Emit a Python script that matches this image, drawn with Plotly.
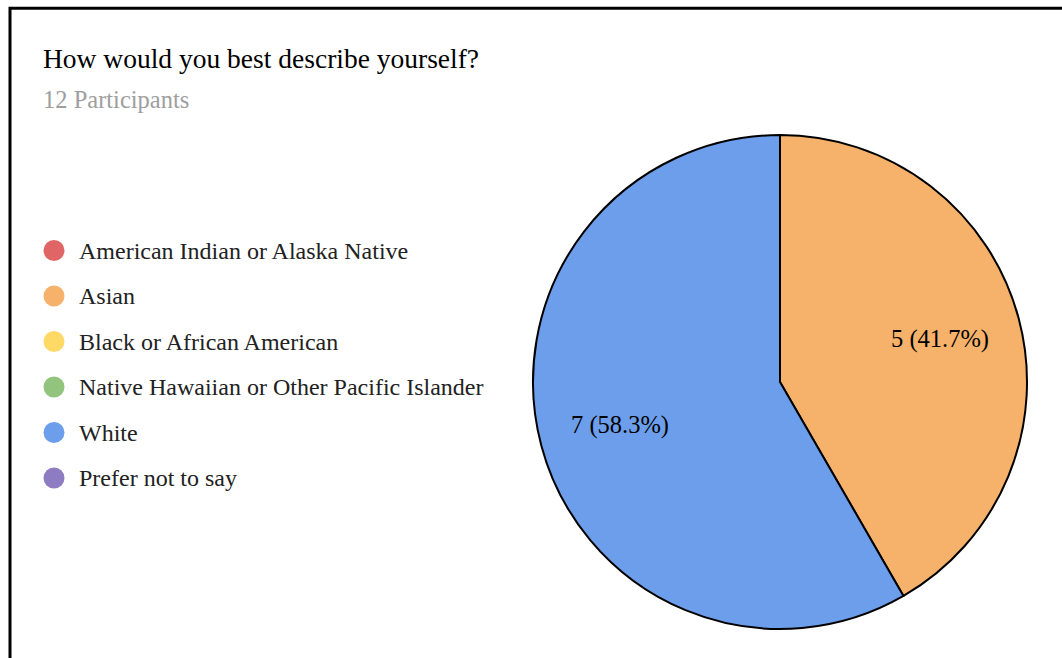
import math
import plotly.graph_objects as go

categories = ["American Indian or Alaska Native", "Asian", "Black or African American",
              "Native Hawaiian or Other Pacific Islander", "White", "Prefer not to say"]
counts = [0, 5, 0, 0, 7, 0]
colors = ["#e06666", "#f6b26b", "#ffd966", "#93c47d", "#6d9eeb", "#8e7cc3"]
title_text = "How would you best describe yourself?"
subtitle_text = "12 Participants"

W, H = 1062, 658
FONT = "Liberation Serif, Times New Roman, serif"

fig = go.Figure()

pie_labels = [c for c, v in zip(categories, counts) if v > 0]
pie_values = [v for v in counts if v > 0]
pie_colors = [col for col, v in zip(colors, counts) if v > 0]

cx, cy, r = 780, 382, 247
fig.add_trace(go.Pie(
    labels=pie_labels, values=pie_values,
    marker=dict(colors=pie_colors, line=dict(color="black", width=2)),
    sort=False, direction="clockwise", rotation=0,
    textinfo="none",
    domain=dict(x=[(cx - r) / W, (cx + r) / W], y=[1 - (cy + r) / H, 1 - (cy - r) / H]),
    showlegend=False, hoverinfo="label+value+percent",
))

# slice labels placed at each slice's mid-angle
total = sum(pie_values)
acc = 0
label_r = 0.67 * r
for v in pie_values:
    mid = (acc + v / 2) / total * 2 * math.pi
    acc += v
    lx = cx + label_r * math.sin(mid)
    ly = cy - label_r * math.cos(mid)
    fig.add_annotation(x=lx, y=ly, xref="x", yref="y",
                       text=f"{v} ({v / total * 100:.1f}%)", showarrow=False,
                       xanchor="center", yanchor="middle",
                       font=dict(family=FONT, size=24.5, color="black"))

# custom legend
leg_x = 54
leg_y0, leg_step = 250.5, 45.5
fig.add_trace(go.Scatter(
    x=[leg_x] * len(categories),
    y=[leg_y0 + i * leg_step for i in range(len(categories))],
    mode="markers", marker=dict(size=21, color=colors, line=dict(width=0)),
    showlegend=False, hoverinfo="skip", xaxis="x", yaxis="y",
))
for i, c in enumerate(categories):
    fig.add_annotation(x=77, y=leg_y0 + i * leg_step, xref="x", yref="y", text=c,
                       showarrow=False, xanchor="left", yanchor="middle",
                       font=dict(family=FONT, size=24, color="#222222"))

fig.add_annotation(x=41, y=58, xref="x", yref="y", text=title_text,
                   showarrow=False, xanchor="left", yanchor="middle",
                   font=dict(family=FONT, size=27.5, color="black"))
fig.add_annotation(x=41, y=99, xref="x", yref="y", text=subtitle_text,
                   showarrow=False, xanchor="left", yanchor="middle",
                   font=dict(family=FONT, size=24.5, color="#9e9e9e"))

fig.add_shape(type="rect", xref="paper", yref="paper",
              x0=10 / W, x1=1.05, y0=-0.05, y1=1 - 8.3 / H,
              line=dict(color="black", width=3), layer="above")

fig.update_layout(
    width=W, height=H, margin=dict(l=0, r=0, t=0, b=0),
    paper_bgcolor="white", plot_bgcolor="rgba(0,0,0,0)",
    xaxis=dict(range=[0, W], visible=False, domain=[0, 1], fixedrange=True),
    yaxis=dict(range=[H, 0], visible=False, domain=[0, 1], fixedrange=True),
)

fig.write_html("out.html", config={"displayModeBar": False},
               post_script="document.body.style.margin='0';document.body.style.overflow='hidden';")
